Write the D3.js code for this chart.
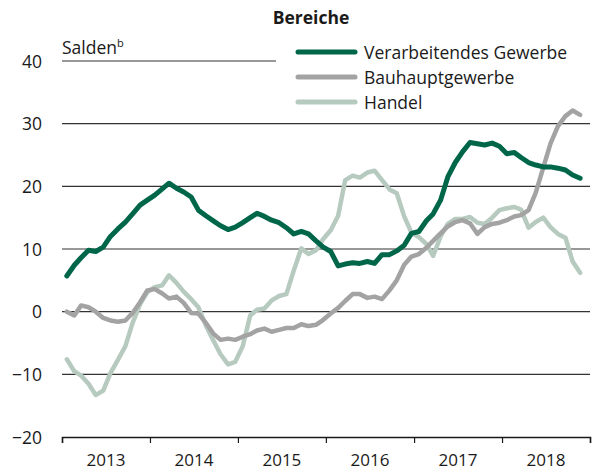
<!DOCTYPE html>
<html>
<head>
<meta charset="utf-8">
<script src="https://cdn.jsdelivr.net/npm/d3@7"></script>
<style>
  body { margin: 0; background: #fff; }
  svg text { font-family: "Open Sans", "Noto Sans", sans-serif; fill: #1a1a1a; }
</style>
</head>
<body>
<svg id="chart" width="597" height="472"></svg>
<script>
// monthly balances, Jan 2013 .. Nov 2018
var startYear = 2013;
var verarbeitend = [5.7, 7.4, 8.6, 9.8, 9.6, 10.3, 12.0, 13.2, 14.3, 15.6, 17.0, 17.8,
	18.6, 19.6, 20.5, 19.7, 19.1, 18.3, 16.2, 15.3, 14.5, 13.7, 13.1, 13.5,
	14.2, 15.0, 15.7, 15.2, 14.6, 14.2, 13.4, 12.4, 12.8, 12.4, 11.3, 10.3,
	9.6, 7.3, 7.6, 7.8, 7.7, 8.0, 7.7, 9.1, 9.1, 9.7, 10.6, 12.5,
	12.8, 14.5, 15.6, 17.8, 21.5, 23.8, 25.5, 27.0, 26.8, 26.6, 26.9, 26.4,
	25.2, 25.4, 24.6, 23.8, 23.4, 23.1, 23.1, 22.9, 22.6, 21.8, 21.3];
var bauhaupt = [0.0, -0.6, 1.0, 0.7, 0.0, -1.0, -1.4, -1.6, -1.4, -0.2, 1.5, 3.4,
	3.6, 2.9, 2.1, 2.4, 1.4, -0.2, -0.3, -1.8, -3.5, -4.5, -4.3, -4.5,
	-4.0, -3.6, -3.0, -2.7, -3.2, -2.9, -2.6, -2.6, -2.0, -2.3, -2.1, -1.3,
	-0.3, 0.6, 1.7, 2.8, 2.8, 2.2, 2.4, 2.0, 3.4, 5.0, 7.5, 8.8,
	9.2, 10.2, 11.3, 12.5, 13.6, 14.3, 14.6, 14.1, 12.4, 13.5, 14.0, 14.2,
	14.6, 15.2, 15.4, 16.2, 19.0, 23.0, 26.8, 29.6, 31.2, 32.1, 31.4];
var handel = [-7.6, -9.5, -10.2, -11.5, -13.3, -12.6, -9.8, -7.7, -5.5, -1.8, 1.2, 3.1,
	3.9, 4.2, 5.8, 4.6, 3.2, 2.0, 0.7, -2.2, -4.6, -6.8, -8.4, -8.0,
	-5.5, -0.6, 0.3, 0.5, 1.8, 2.5, 2.8, 6.6, 10.1, 9.2, 9.8, 11.6,
	13.0, 15.3, 21.0, 21.7, 21.4, 22.2, 22.5, 21.0, 19.5, 18.9, 15.2, 12.6,
	11.9, 10.8, 8.9, 12.0, 14.0, 14.8, 14.8, 15.1, 14.2, 14.0, 15.0, 16.2,
	16.5, 16.7, 16.3, 13.4, 14.3, 15.0, 13.5, 12.4, 11.8, 8.0, 6.2];
var seriesNames = ['Verarbeitendes Gewerbe', 'Bauhauptgewerbe', 'Handel'];
var seriesColors = ['#00664a', '#a3a3a3', '#b7cabf'];
var yTicks = [40, 30, 20, 10, 0, -10, -20];
var years = [2013, 2014, 2015, 2016, 2017, 2018];

var svg = d3.select('#chart');
var plotLeft = 62, plotRight = 590, plotTop = 61, plotBottom = 437;
var fontSize = 17.5;

var x = d3.scaleTime()
	.domain([new Date(2013, 0, 1), new Date(2019, 0, 1)])
	.range([plotLeft, plotRight]);
var y = d3.scaleLinear()
	.domain([-20, 40])
	.range([plotBottom, plotTop]);

var dateOf = i => new Date(startYear, i, 21);

// grid lines (the 40 line is short, under the unit label)
svg.append('g').selectAll('line')
	.data(yTicks.filter(t => t > -20))
	.enter().append('line')
	.attr('x1', plotLeft)
	.attr('x2', d => d === 40 ? 276 : plotRight)
	.attr('y1', d => y(d))
	.attr('y2', d => y(d))
	.attr('stroke', '#333')
	.attr('stroke-width', 1.2);

// y labels
svg.append('g').selectAll('text')
	.data(yTicks)
	.enter().append('text')
	.attr('x', 42)
	.attr('y', d => y(d) + 6.5)
	.attr('text-anchor', 'end')
	.attr('font-size', fontSize)
	.text(d => d < 0 ? '\u2212' + Math.abs(d) : d);

var unit = svg.append('text')
	.attr('x', 62)
	.attr('y', 54)
	.attr('font-size', fontSize);
unit.append('tspan').text('Salden');
unit.append('tspan').attr('font-size', 11).attr('dy', -7).text('b');

// x axis
var xAxis = d3.axisBottom(x)
	.tickValues(d3.range(2013, 2020).map(yr => new Date(yr, 0, 1)))
	.tickSize(6)
	.tickFormat('');
var gx = svg.append('g')
	.attr('transform', 'translate(0,' + plotBottom + ')')
	.call(xAxis);
gx.select('.domain').attr('stroke', '#1a1a1a').attr('stroke-width', 1.5);
gx.selectAll('.tick line').attr('stroke', '#1a1a1a').attr('stroke-width', 1.2);

svg.append('g').selectAll('text')
	.data(years)
	.enter().append('text')
	.attr('x', d => (x(new Date(d, 0, 1)) + x(new Date(d + 1, 0, 1))) / 2)
	.attr('y', 466)
	.attr('text-anchor', 'middle')
	.attr('font-size', 17)
	.text(d => d);

// lines
var line = d3.line()
	.x((d, i) => x(dateOf(i)))
	.y(d => y(d))
	.curve(d3.curveLinear);

var allSeries = [verarbeitend, bauhaupt, handel];
var drawOrder = [2, 1, 0];
drawOrder.forEach(function(k) {
	svg.append('path')
		.datum(allSeries[k])
		.attr('d', line)
		.attr('fill', 'none')
		.attr('stroke', seriesColors[k])
		.attr('stroke-width', k === 0 ? 5 : 4.5)
		.attr('stroke-linejoin', 'round')
		.attr('stroke-linecap', 'round');
});

// legend
svg.append('text')
	.attr('x', 311)
	.attr('y', 24)
	.attr('text-anchor', 'middle')
	.attr('font-size', fontSize)
	.attr('font-weight', 'bold')
	.text('Bereiche');

var lg = svg.append('g').selectAll('g')
	.data(seriesNames)
	.enter().append('g')
	.attr('transform', (d, i) => 'translate(0,' + (52 + i * 25) + ')');
lg.append('line')
	.attr('x1', 298).attr('x2', 355)
	.attr('stroke', (d, i) => seriesColors[i])
	.attr('stroke-width', 5)
	.attr('stroke-linecap', 'round');
lg.append('text')
	.attr('x', 364)
	.attr('y', 6.5)
	.attr('font-size', fontSize)
	.text(d => d);
</script>
</body>
</html>
